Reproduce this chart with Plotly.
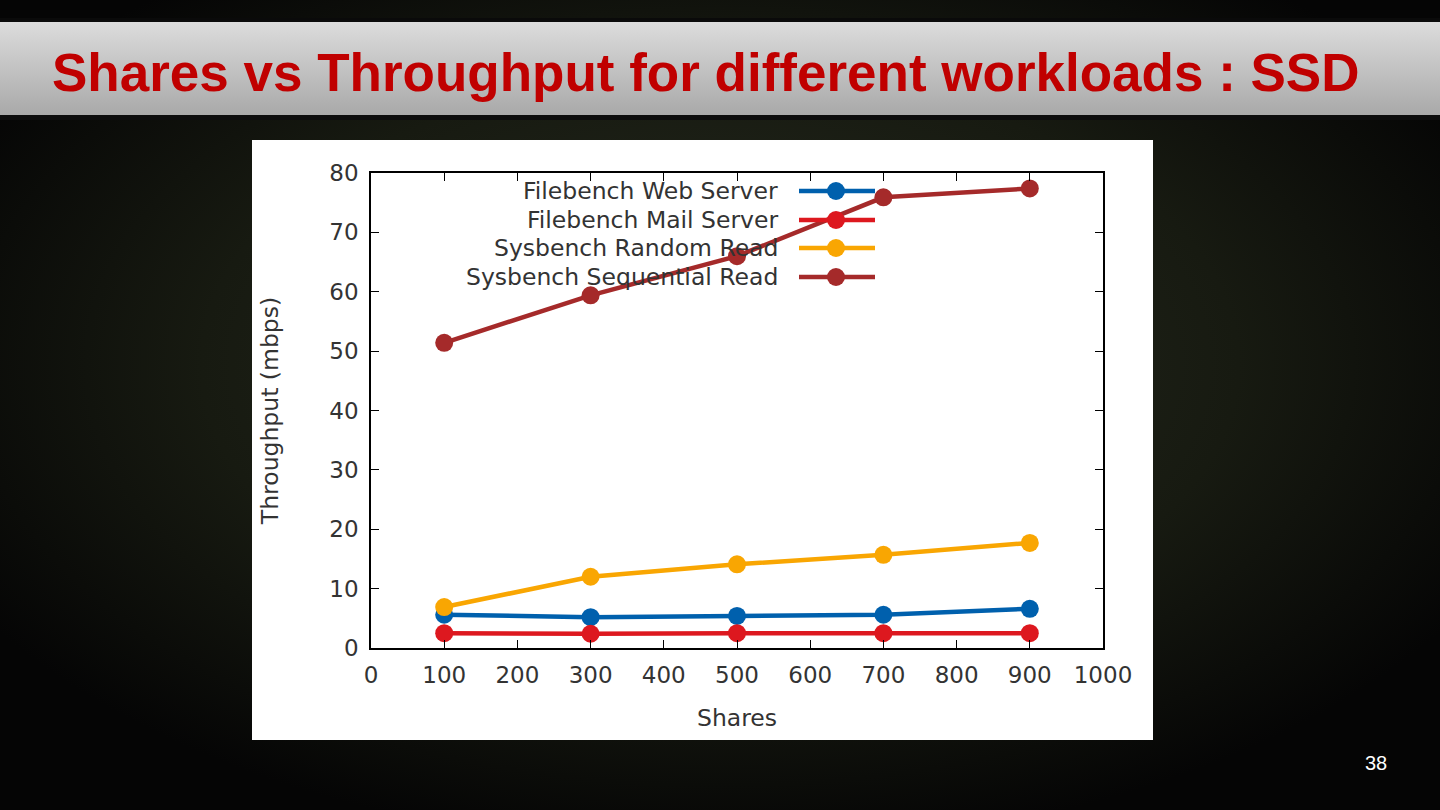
import base64
import plotly.graph_objects as go

shares = [100, 300, 500, 700, 900]
web_server = [5.6, 5.2, 5.4, 5.6, 6.6]
mail_server = [2.5, 2.4, 2.5, 2.5, 2.5]
random_read = [6.9, 12.0, 14.1, 15.7, 17.7]
sequential_read = [51.4, 59.4, 66.0, 75.9, 77.4]

series_names = ["Filebench Web Server", "Filebench Mail Server",
                "Sysbench Random Read", "Sysbench Sequential Read"]
series_values = [web_server, mail_server, random_read, sequential_read]
series_colors = ["#0060ad", "#dd181f", "#f9a602", "#a52a2a"]

x_ticks = list(range(0, 1001, 100))
y_ticks = list(range(0, 81, 10))

W, H = 1440, 810

bg_svg = f'''<svg xmlns="http://www.w3.org/2000/svg" width="{W}" height="{H}" preserveAspectRatio="none">
<defs>
<radialGradient id="g" cx="0.5" cy="0.45" r="0.6">
<stop offset="0" stop-color="#282c21"/>
<stop offset="0.6" stop-color="#171a11"/>
<stop offset="1" stop-color="#050505"/>
</radialGradient>
<linearGradient id="t" x1="0" y1="0" x2="0" y2="1">
<stop offset="0" stop-color="#dcdcdc"/>
<stop offset="1" stop-color="#a9a9a9"/>
</linearGradient>
</defs>
<rect width="{W}" height="{H}" fill="url(#g)"/>
<rect x="0" y="18" width="{W}" height="4" fill="#0a0a0a"/>
<rect x="0" y="22" width="{W}" height="93" fill="url(#t)"/>
<rect x="0" y="115" width="{W}" height="5" fill="#0c0c0c"/>
<rect x="252" y="140" width="901" height="600" fill="#ffffff"/>
</svg>'''
bg_uri = "data:image/svg+xml;base64," + base64.b64encode(bg_svg.encode()).decode()

fig = go.Figure()
for name, vals, col in zip(series_names, series_values, series_colors):
    fig.add_trace(go.Scatter(
        x=shares, y=vals, name=name, mode="lines+markers",
        line=dict(color=col, width=4.5),
        marker=dict(symbol="circle", size=18, color=col),
        showlegend=False,
    ))

px = lambda v: v / W
py = lambda v: 1 - v / H

FONT = "DejaVu Sans"
tick_font = dict(family=FONT, size=23, color="#333333")

fig.update_layout(
    width=W, height=H,
    margin=dict(l=0, r=0, t=0, b=0, pad=0),
    paper_bgcolor="#0b0c08",
    plot_bgcolor="#ffffff",
    images=[dict(source=bg_uri, xref="paper", yref="paper", x=0, y=1,
                 sizex=1, sizey=1, xanchor="left", yanchor="top",
                 sizing="stretch", layer="below")],
    xaxis=dict(domain=[px(371), px(1103)], range=[0, 1000], automargin=False,
               tickvals=x_ticks, ticks="inside", ticklen=8, tickcolor="#000",
               mirror="allticks", showline=True, linecolor="#000", linewidth=1.5,
               showgrid=False, zeroline=False, tickfont=tick_font, ticklabelstandoff=6,
               title=dict(text="Shares", font=dict(family=FONT, size=23.5, color="#333333"), standoff=22)),
    yaxis=dict(domain=[py(648), py(173)], range=[0, 80], automargin=False,
               tickvals=y_ticks, ticks="inside", ticklen=8, tickcolor="#000",
               mirror="allticks", showline=True, linecolor="#000", linewidth=1.5,
               showgrid=False, zeroline=False, tickfont=tick_font, ticklabelstandoff=6,
               title=dict(text="Throughput (mbps)", font=dict(family=FONT, size=23.5, color="#333333"), standoff=44)),
)

annotations = [
    dict(text="<b>Shares vs Throughput for different workloads : SSD</b>",
         xref="paper", yref="paper", x=px(50), y=py(72), xanchor="left", yanchor="middle",
         showarrow=False, font=dict(family="Liberation Sans Narrow, Liberation Sans, Arial", size=53, color="#c00000")),
    dict(text="38", xref="paper", yref="paper", x=px(1376), y=py(763),
         xanchor="center", yanchor="middle", showarrow=False,
         font=dict(family="Liberation Sans, Arial", size=20, color="#ffffff")),
]
shapes = []
legend_y = [191, 220, 248, 277]
for name, col, ly in zip(series_names, series_colors, legend_y):
    annotations.append(dict(text=name, xref="paper", yref="paper", x=px(780), y=py(ly),
                            xanchor="right", yanchor="middle", showarrow=False,
                            font=dict(family=FONT, size=23.5, color="#333333")))
    shapes.append(dict(type="line", xref="paper", yref="paper", x0=px(799), x1=px(875),
                       y0=py(ly), y1=py(ly), line=dict(color=col, width=4.5)))
    shapes.append(dict(type="circle", xref="paper", yref="paper", x0=px(827), x1=px(845),
                       y0=py(ly + 9), y1=py(ly - 9), fillcolor=col, line=dict(color=col, width=0)))

fig.update_layout(annotations=annotations, shapes=shapes)
fig.write_html("out.html", config={"displayModeBar": False},
               post_script="document.body.style.margin='0';document.body.style.overflow='hidden';")
